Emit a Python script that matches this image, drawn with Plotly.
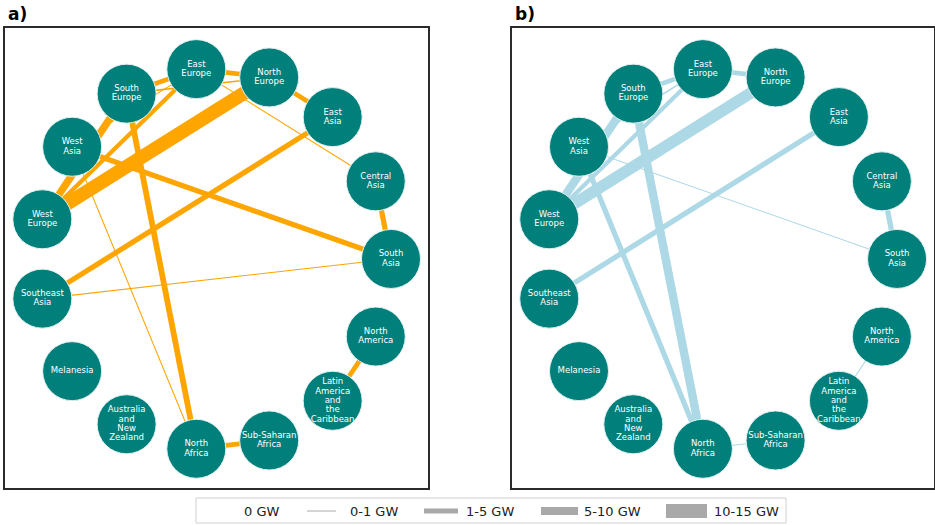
import numpy as np
import plotly.graph_objects as go

# Regions in circular-layout order (counter-clockwise from the right)
regions = [
    "South Asia", "Central Asia", "East Asia", "North Europe", "East Europe",
    "South Europe", "West Asia", "West Europe", "Southeast Asia", "Melanesia",
    "Australia and New Zealand", "North Africa", "Sub-Saharan Africa",
    "Latin America and the Caribbean", "North America",
]
region_labels = [
    "South\nAsia", "Central\nAsia", "East\nAsia", "North\nEurope", "East\nEurope",
    "South\nEurope", "West\nAsia", "West\nEurope", "Southeast\nAsia", "Melanesia",
    "Australia\nand\nNew\nZealand", "North\nAfrica", "Sub-Saharan\nAfrica",
    "Latin\nAmerica\nand\nthe\nCaribbean", "North\nAmerica",
]

# Interregional transmission links (GW) for the two scenarios
link_from = [
    "West Europe", "West Europe", "West Europe", "South Europe", "East Europe",
    "South Europe", "West Asia", "North Europe", "East Europe", "West Asia",
    "East Asia", "Southeast Asia", "Central Asia", "South Europe", "West Asia",
    "North Africa", "Latin America and the Caribbean",
]
link_to = [
    "North Europe", "South Europe", "East Europe", "East Europe", "North Europe",
    "North Europe", "East Europe", "East Asia", "Central Asia", "South Asia",
    "Southeast Asia", "South Asia", "South Asia", "North Africa", "North Africa",
    "Sub-Saharan Africa", "North America",
]
cap_a = [13.0, 7.0, 4.0, 4.5, 4.5, 1.5, 1.0, 4.5, 1.0, 5.0, 5.0, 1.0, 5.0, 5.5, 1.0, 4.5, 4.5]
cap_b = [11.0, 8.0, 4.0, 4.5, 4.5, 0.0, 1.5, 0.0, 0.0, 1.0, 5.0, 0.0, 5.0, 8.0, 5.0, 1.0, 1.0]

legend_labels = ["0 GW", "0-1 GW", "1-5 GW", "5-10 GW", "10-15 GW"]
panel_titles = ["a)", "b)"]

W, H = 935, 525
XR = [-1.19, 1.21]
YR = [-1.2, 1.21]
PLOT_TOP, PLOT_BOTTOM = 28, 488

n = len(regions)
theta = 2 * np.pi * np.arange(n) / n
pos = {r: (np.cos(t), np.sin(t)) for r, t in zip(regions, theta)}
node_x = [pos[r][0] for r in regions]
node_y = [pos[r][1] for r in regions]

# Multi-line node labels laid out line by line with a compact line pitch
px_per_unit_y = (PLOT_BOTTOM - PLOT_TOP) / (YR[1] - YR[0])
line_step = 9.4 / px_per_unit_y
lab_x, lab_y, lab_t = [], [], []
for x, y, lab in zip(node_x, node_y, region_labels):
    lines = lab.split("\n")
    mid = (len(lines) - 1) / 2
    for k, s in enumerate(lines):
        lab_x.append(x)
        lab_y.append(y + (mid - k) * line_step)
        lab_t.append(s)

fig = go.Figure()

panels = [("x", "y", cap_a, "#FFA500"), ("x2", "y2", cap_b, "#ADD8E6")]
for xa, ya, caps, colour in panels:
    for f, t, c in zip(link_from, link_to, caps):
        if c <= 0:
            continue
        (x0, y0), (x1, y1) = pos[f], pos[t]
        fig.add_trace(go.Scatter(
            x=[x0, x1], y=[y0, y1], mode="lines",
            line=dict(color=colour, width=max(c * 1.05, 1.0)),
            xaxis=xa, yaxis=ya, hoverinfo="skip", showlegend=False,
        ))
    fig.add_trace(go.Scatter(
        x=node_x, y=node_y, mode="markers",
        marker=dict(size=59, color="#007F7B", line=dict(color="#E3F1F0", width=1)),
        xaxis=xa, yaxis=ya, hoverinfo="skip", showlegend=False, cliponaxis=False,
    ))
    fig.add_trace(go.Scatter(
        x=lab_x, y=lab_y, mode="text", text=lab_t, textposition="middle center",
        textfont=dict(family="DejaVu Sans", size=8.5, color="white"),
        xaxis=xa, yaxis=ya, hoverinfo="skip", showlegend=False, cliponaxis=False,
    ))

axis_common = dict(showgrid=False, zeroline=False, showticklabels=False, ticks="",
                   showline=True, mirror=True, linecolor="#2b2b2b", linewidth=1.5)
ydom = [1 - PLOT_BOTTOM / H, 1 - PLOT_TOP / H]
fig.update_layout(
    width=W, height=H, margin=dict(l=0, r=0, t=0, b=0),
    paper_bgcolor="white", plot_bgcolor="white", showlegend=False,
    xaxis=dict(domain=[5 / W, 428 / W], range=XR, anchor="y", **axis_common),
    yaxis=dict(domain=ydom, range=YR, anchor="x", **axis_common),
    xaxis2=dict(domain=[512 / W, 934 / W], range=XR, anchor="y2", **axis_common),
    yaxis2=dict(domain=ydom, range=YR, anchor="x2", **axis_common),
)

# Panel letters
for title, px in zip(panel_titles, [6, 513]):
    fig.add_annotation(text=f"<b>{title}</b>", x=px / W, y=1 - 2 / H, xref="paper", yref="paper",
                       xanchor="left", yanchor="top", showarrow=False,
                       font=dict(family="DejaVu Sans", size=17, color="black"))

# Width legend
fig.add_shape(type="rect", xref="paper", yref="paper",
              x0=196 / W, x1=786 / W, y0=1 - 523 / H, y1=1 - 498 / H,
              line=dict(color="#d0d0d0", width=1), fillcolor="white")
ly = 1 - 511 / H
handles = [(205, 238, 0), (307, 336, 1), (424, 458, 5), (541, 578, 8), (666, 707, 14)]
label_x = [242, 348, 464, 582, 712]
for (hx0, hx1, lw), lab, tx in zip(handles, legend_labels, label_x):
    if lw > 0:
        fig.add_shape(type="line", xref="paper", yref="paper", x0=hx0 / W, x1=hx1 / W,
                      y0=ly, y1=ly, line=dict(color="#A9A9A9", width=lw))
    fig.add_annotation(text=lab, x=tx / W, y=ly, xref="paper", yref="paper",
                       xanchor="left", yanchor="middle", showarrow=False,
                       font=dict(family="DejaVu Sans", size=13, color="#222222"))

fig.write_html("out.html")
